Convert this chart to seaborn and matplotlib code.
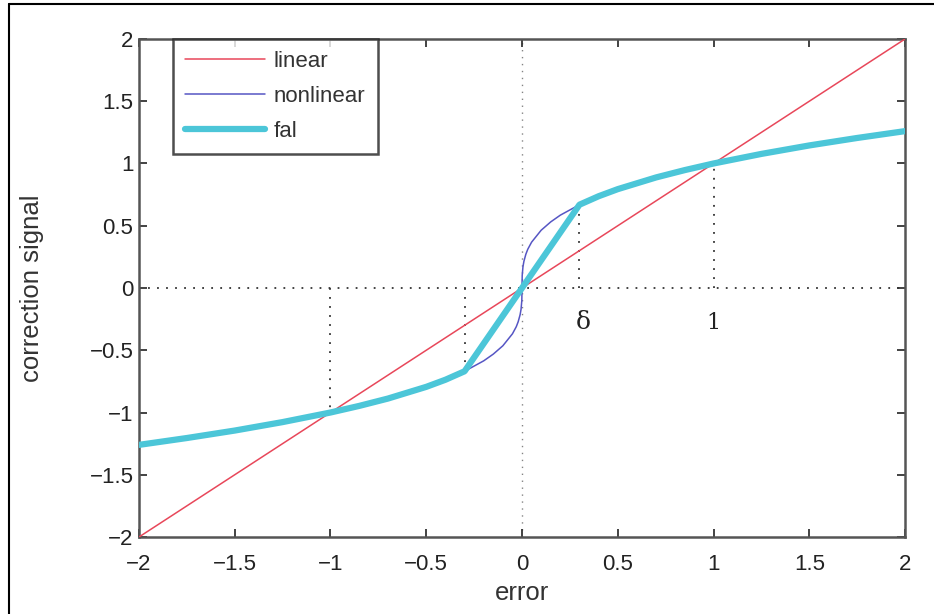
"""
Linear, nonlinear and fal correction signals versus error.
"""

import matplotlib
matplotlib.use('Agg')
import matplotlib.pyplot as plt
import pandas as pd
import seaborn as sns
from matplotlib.lines import Line2D

# values
error_pts = [-2.0, -1.75, -1.5, -1.25, -1.0, -0.85, -0.7, -0.5, -0.4, -0.3,
             -0.2, -0.15, -0.1, -0.05, -0.03, -0.02, -0.01, -0.005, -0.001,
             0.0,
             0.001, 0.005, 0.01, 0.02, 0.03, 0.05, 0.1, 0.15, 0.2,
             0.3, 0.4, 0.5, 0.7, 0.85, 1.0, 1.25, 1.5, 1.75, 2.0]
nonlinear_vals = [-1.26, -1.205, -1.145, -1.077, -1.0, -0.947, -0.888,
                  -0.794, -0.737, -0.669, -0.585, -0.531, -0.464, -0.368,
                  -0.311, -0.271, -0.215, -0.171, -0.10,
                  0.0,
                  0.10, 0.171, 0.215, 0.271, 0.311, 0.368, 0.464, 0.531,
                  0.585, 0.669, 0.737, 0.794, 0.888, 0.947, 1.0, 1.077,
                  1.145, 1.205, 1.26]

fal_error = [-2.0, -1.75, -1.5, -1.25, -1.0, -0.85, -0.7, -0.5, -0.4, -0.3,
             0.0, 0.3, 0.4, 0.5, 0.7, 0.85, 1.0, 1.25, 1.5, 1.75, 2.0]
fal_vals = [-1.26, -1.205, -1.145, -1.077, -1.0, -0.947, -0.888, -0.794,
            -0.737, -0.669, 0.0, 0.669, 0.737, 0.794, 0.888, 0.947, 1.0,
            1.077, 1.145, 1.205, 1.26]

linear_error = [-2.0, 2.0]
linear_vals = [-2.0, 2.0]

# dotted guide lines from the x axis to the curve
guide_x = [-1.0, -0.3, 0.3, 1.0]
guide_y = [-1.0, -0.669, 0.669, 1.0]

tick_vals = [-2, -1.5, -1, -0.5, 0, 0.5, 1, 1.5, 2]
tick_text = ['\u22122', '\u22121.5', '\u22121', '\u22120.5', '0',
             '0.5', '1', '1.5', '2']

sns.set_theme(style='white')
plt.rcParams['font.family'] = ['Liberation Sans', 'DejaVu Sans']

fig = plt.figure(figsize=(9.34, 6.14), dpi=100)
ax = fig.add_axes([0.1488, 0.1254, 0.8202, 0.8111])

dark = '#333333'
# dotted axes through zero
ax.plot([-2, 2], [0, 0], linestyle=(0, (1, 4)), color=dark, lw=1.3, zorder=1)
ax.plot([0, 0], [-2, 2], linestyle=(0, (1, 4)), color=dark, lw=1.0,
        alpha=0.6, zorder=1)
for gx, gy in zip(guide_x, guide_y):
    ax.plot([gx, gx], [0, gy], linestyle=(0, (1, 4)), color=dark, lw=1.3,
            zorder=1)

df_lin = pd.DataFrame({'error': linear_error, 'signal': linear_vals})
df_non = pd.DataFrame({'error': error_pts, 'signal': nonlinear_vals})
df_fal = pd.DataFrame({'error': fal_error, 'signal': fal_vals})

sns.lineplot(data=df_lin, x='error', y='signal', ax=ax, color='#e8475a',
             lw=1.1, label='linear', sort=False, zorder=3)
sns.lineplot(data=df_non, x='error', y='signal', ax=ax, color='#5656c4',
             lw=1.1, label='nonlinear', sort=False, zorder=2)
sns.lineplot(data=df_fal, x='error', y='signal', ax=ax, color='#4cc6d8',
             lw=4.5, label='fal', sort=False, zorder=4)

ax.text(0.32, -0.28, '\u03b4', fontsize=18, ha='center', va='center',
        color='#222222', family='DejaVu Serif')
ax.text(1.0, -0.28, '1', fontsize=16, ha='center', va='center',
        color='#222222', family='DejaVu Serif')

ax.set_xlim(-2, 2)
ax.set_ylim(-2, 2)
ax.set_xticks(tick_vals)
ax.set_yticks(tick_vals)
ax.set_xticklabels(tick_text)
ax.set_yticklabels(tick_text)
ax.tick_params(direction='in', length=6, width=1.2, colors='#222222',
               labelsize=16, top=True, right=True, bottom=True, left=True)
ax.tick_params(axis='x', pad=12)
ax.tick_params(axis='y', pad=4)
for side in ax.spines.values():
    side.set_linewidth(1.8)
    side.set_color('#555555')

ax.set_xlabel('error', fontsize=18.5, color='#333333')
ax.set_ylabel('correction signal', fontsize=18.5, color='#333333')
ax.xaxis.set_label_coords(0.5, -0.088)
ax.yaxis.set_label_coords(-0.124, 0.5)

leg = ax.legend(loc='upper left', bbox_to_anchor=(0.044, 1.0),
                fontsize=16, frameon=True, fancybox=False,
                handlelength=3.6, labelspacing=0.62, borderpad=0.55,
                handletextpad=0.4, borderaxespad=0)
leg.get_frame().set_edgecolor('#222222')
leg.get_frame().set_linewidth(1.8)
for txt in leg.get_texts():
    txt.set_color('#333333')

# thin frame of the original figure page
fig.add_artist(Line2D([0.0096, 1.0], [0.9935, 0.9935], color='black',
                      lw=1.5, transform=fig.transFigure))
fig.add_artist(Line2D([0.0096, 0.0096], [0.0, 0.9935], color='black',
                      lw=1.5, transform=fig.transFigure))

fig.savefig('out.png', dpi=100)
